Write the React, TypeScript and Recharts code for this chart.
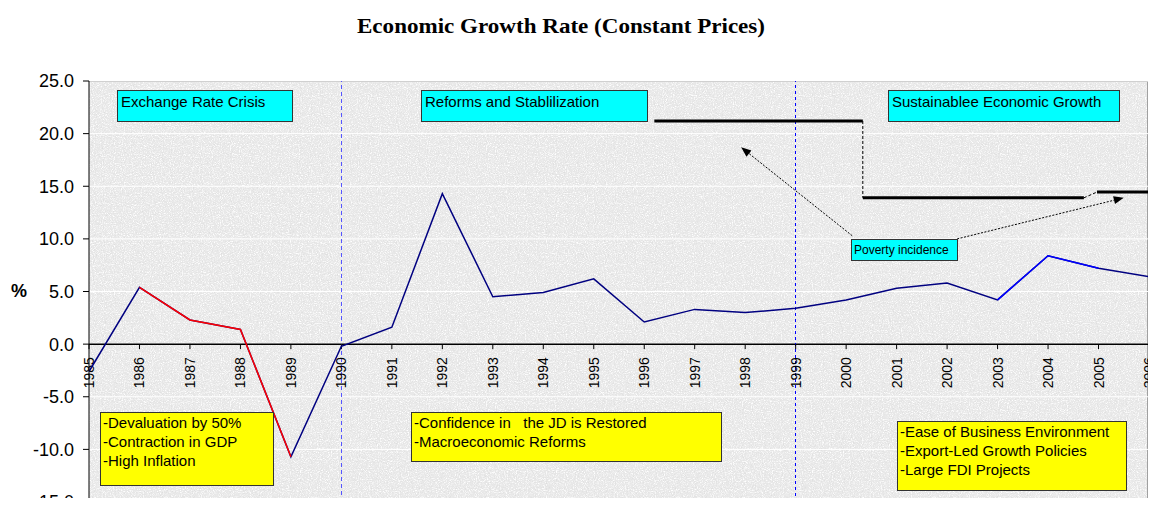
import { CartesianGrid, Line, LineChart, ReferenceLine, XAxis, YAxis } from "recharts";

// growth rate, % (constant prices)
const years = [
  1985, 1986, 1987, 1988, 1989, 1990, 1991, 1992, 1993, 1994, 1995,
  1996, 1997, 1998, 1999, 2000, 2001, 2002, 2003, 2004, 2005, 2006,
];
const growth = [
  -2.6, 5.4, 2.3, 1.4, -10.7, -0.2, 1.6, 14.3, 4.5, 4.9, 6.2,
  2.1, 3.3, 3.0, 3.4, 4.2, 5.3, 5.8, 4.2, 8.4, 7.2, 6.4,
];
const crisisYears = [1986, 1987, 1988, 1989];
const boomYears = [2003, 2004, 2005];
const yTicks = [-15, -10, -5, 0, 5, 10, 15, 20, 25];
const periodBreaks = [1990, 1999];

// poverty incidence steps (%), drawn as thick bars
const povertyLevel = [21.2, 13.9, 14.45];
const povertyFrom = [1996.2, 2000.33, 2004.97];
const povertyTo = [2000.33, 2004.71, 2006];

// pointer arrows from the "Poverty incidence" label
const arrowStart = [
  { x: 2000.12, y: 10.3 },
  { x: 2002.2, y: 10.0 },
];
const arrowEnd = [
  { x: 1997.92, y: 18.7 },
  { x: 2005.5, y: 13.9 },
];

const W = 1156;
const H = 506;
const TOP = 81;
const BOTTOM = 4;
const LEFT = 89;
const RIGHT = 7;
const PLOT_H = H - TOP - BOTTOM;

const data = years.map((year, i) => ({
  year,
  growth: growth[i],
  crisis: crisisYears.includes(year) ? growth[i] : null,
  boom: boomYears.includes(year) ? growth[i] : null,
}));

const noiseSvg =
  `<svg xmlns='http://www.w3.org/2000/svg' width='256' height='256'>` +
  `<filter id='d' x='0' y='0' width='1' height='1'><feTurbulence type='fractalNoise' baseFrequency='0.9' numOctaves='2' seed='4' stitchTiles='stitch'/>` +
  `<feColorMatrix type='matrix' values='0 0 0 0 0.72 0 0 0 0 0.72 0 0 0 0 0.72 3 0 0 0 -1.55'/></filter>` +
  `<filter id='l' x='0' y='0' width='1' height='1'><feTurbulence type='fractalNoise' baseFrequency='0.9' numOctaves='2' seed='11' stitchTiles='stitch'/>` +
  `<feColorMatrix type='matrix' values='0 0 0 0 1 0 0 0 0 1 0 0 0 0 1 3 0 0 0 -1.4'/></filter>` +
  `<rect width='256' height='256' fill='#e8e8e8'/>` +
  `<rect width='256' height='256' filter='url(#d)'/>` +
  `<rect width='256' height='256' filter='url(#l)'/></svg>`;

const font = 'Arial, "Liberation Sans", sans-serif';

// year label hanging under the zero line
function YearTick(props: any) {
  const { x1, y1, year } = props;
  return (
    <g transform={`translate(${x1},${y1})`}>
      <line x1={0} y1={0} x2={0} y2={5} stroke="#000" />
      <text
        transform="rotate(-90)"
        x={-13}
        y={5}
        textAnchor="end"
        fontSize={14}
        fontFamily={font}
        fill="#000"
      >
        {year}
      </text>
    </g>
  );
}

function Arrow(props: any) {
  const { x1, y1, x2, y2 } = props;
  const a = Math.atan2(y2 - y1, x2 - x1);
  const len = 10;
  const w = 4;
  const bx = x2 - len * Math.cos(a);
  const by = y2 - len * Math.sin(a);
  const px = -Math.sin(a) * w;
  const py = Math.cos(a) * w;
  return (
    <g>
      <line x1={x1} y1={y1} x2={bx} y2={by} stroke="#000" strokeWidth={1} strokeDasharray="2 1.5" />
      <polygon points={`${x2},${y2} ${bx + px},${by + py} ${bx - px},${by - py}`} fill="#000" />
    </g>
  );
}

const cyanBox = {
  position: "absolute" as const,
  background: "#00ffff",
  border: "1px solid #333",
  boxSizing: "border-box" as const,
  fontFamily: font,
  fontSize: 15,
  lineHeight: "17px",
  padding: "2px 3px",
  color: "#000",
  whiteSpace: "nowrap" as const,
};

const yellowBox = {
  position: "absolute" as const,
  background: "#ffff00",
  border: "1px solid #333",
  boxSizing: "border-box" as const,
  fontFamily: font,
  fontSize: 15,
  lineHeight: "19px",
  padding: "0px 2px",
  color: "#000",
  whiteSpace: "pre" as const,
};

export default function App() {
  return (
    <div
      style={{
        position: "relative",
        width: W,
        height: H,
        margin: -8,
        overflow: "hidden",
        background: "#fff",
      }}
    >
      <div
        style={{
          position: "absolute",
          left: LEFT,
          top: TOP,
          width: W - LEFT - RIGHT,
          height: PLOT_H,
          boxSizing: "border-box",
          borderTop: "1px solid #a0a0a0",
          borderRight: "2px solid #a0a0a0",
          background: `url("data:image/svg+xml,${encodeURIComponent(noiseSvg)}")`,
        }}
      />
      <svg style={{ position: "absolute", left: 0, top: 0 }} width={W} height={60}>
        <text
          x={357}
          y={33}
          textLength={408}
          lengthAdjust="spacingAndGlyphs"
          fontFamily='"Liberation Serif", "Times New Roman", serif'
          fontWeight="bold"
          fontSize={21}
          fill="#000"
        >
          Economic Growth Rate (Constant Prices)
        </text>
      </svg>
      <div
        style={{
          position: "absolute",
          left: 11,
          top: 281,
          fontFamily: font,
          fontWeight: "bold",
          fontSize: 18,
        }}
      >
        %
      </div>
      <div style={{ position: "absolute", left: 0, top: 0 }}>
        <LineChart
          width={W}
          height={H}
          data={data}
          margin={{ top: TOP, right: RIGHT, bottom: BOTTOM, left: 0 }}
          style={{ overflow: "visible" }}
        >
          <CartesianGrid horizontal vertical={false} stroke="#ffffff" strokeWidth={1} />
          <XAxis dataKey="year" type="number" domain={[1985, 2006]} ticks={years} hide />
          <YAxis
            type="number"
            domain={[-15, 25]}
            ticks={yTicks}
            interval={0}
            width={LEFT}
            tickFormatter={(v: number) => v.toFixed(1)}
            tick={{ fontSize: 18, fontFamily: font, fill: "#000" }}
            axisLine={{ stroke: "#000" }}
            tickLine={{ stroke: "#000" }}
            tickSize={6}
            tickMargin={9}
          />
          <ReferenceLine y={0} stroke="#000" strokeWidth={1.5} />
          <ReferenceLine
            x={periodBreaks[0]}
            stroke="#5555ff"
            strokeDasharray="4 3"
            shapeRendering="crispEdges"
          />
          <ReferenceLine
            x={periodBreaks[1]}
            stroke="#0000ff"
            strokeDasharray="3 3"
            shapeRendering="crispEdges"
          />
          {years.map((yr) => (
            <ReferenceLine
              key={`yr${yr}`}
              segment={[
                { x: yr, y: 0 },
                { x: yr, y: 0 },
              ]}
              ifOverflow="visible"
              shape={(p: any) => <YearTick {...p} year={yr} />}
            />
          ))}
          {povertyLevel.map((lvl, i) => (
            <ReferenceLine
              key={`pov${i}`}
              segment={[
                { x: povertyFrom[i], y: lvl },
                { x: povertyTo[i], y: lvl },
              ]}
              stroke="#000"
              strokeWidth={3}
            />
          ))}
          <ReferenceLine
            segment={[
              { x: povertyTo[0], y: povertyLevel[0] },
              { x: povertyFrom[1], y: povertyLevel[1] },
            ]}
            stroke="#000"
            strokeDasharray="3 2"
          />
          <ReferenceLine
            segment={[
              { x: povertyTo[1], y: povertyLevel[1] },
              { x: povertyFrom[2], y: povertyLevel[2] },
            ]}
            stroke="#000"
            strokeDasharray="3 2"
          />
          {arrowStart.map((s, i) => (
            <ReferenceLine key={`arr${i}`} segment={[s, arrowEnd[i]]} shape={Arrow} />
          ))}
          <Line
            type="linear"
            dataKey="growth"
            stroke="#000080"
            strokeWidth={1.5}
            dot={false}
            activeDot={false}
            isAnimationActive={false}
          />
          <Line
            type="linear"
            dataKey="crisis"
            stroke="#ff0000"
            strokeWidth={1.5}
            dot={false}
            activeDot={false}
            connectNulls={false}
            isAnimationActive={false}
          />
          <Line
            type="linear"
            dataKey="boom"
            stroke="#0000ff"
            strokeWidth={1.5}
            dot={false}
            activeDot={false}
            connectNulls={false}
            isAnimationActive={false}
          />
        </LineChart>
      </div>

      <div style={{ ...cyanBox, left: 117, top: 90, width: 176, height: 32 }}>Exchange Rate Crisis</div>
      <div style={{ ...cyanBox, left: 421, top: 90, width: 227, height: 32 }}>Reforms and Stablilization</div>
      <div style={{ ...cyanBox, left: 888, top: 90, width: 232, height: 32 }}>Sustainablee Economic Growth</div>
      <div
        style={{
          ...cyanBox,
          left: 851,
          top: 239,
          width: 107,
          height: 22,
          fontSize: 12,
          lineHeight: "16px",
          padding: "2px 2px",
        }}
      >
        Poverty incidence
      </div>

      <div style={{ ...yellowBox, left: 100, top: 412, width: 174, height: 74 }}>
        {"-Devaluation by 50%\n-Contraction in GDP\n-High Inflation"}
      </div>
      <div style={{ ...yellowBox, left: 411, top: 412, width: 311, height: 50 }}>
        {"-Confidence in   the JD is Restored\n-Macroeconomic Reforms"}
      </div>
      <div style={{ ...yellowBox, left: 897, top: 421, width: 230, height: 70 }}>
        {"-Ease of Business Environment\n-Export-Led Growth Policies\n-Large FDI Projects"}
      </div>
    </div>
  );
}
